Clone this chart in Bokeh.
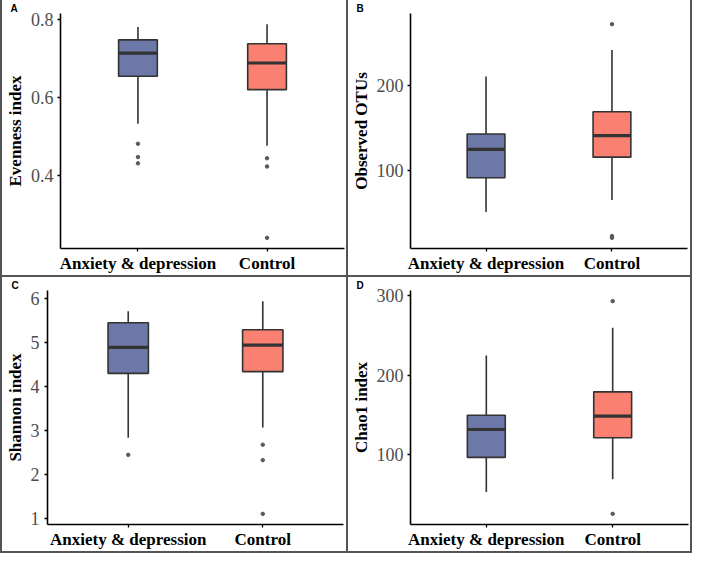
from bokeh.plotting import figure
from bokeh.models import FactorRange, Range1d, FixedTicker, Div
from bokeh.layouts import row, column
from bokeh.embed import file_html
from bokeh.resources import INLINE

# ---- data ----
groups = ["Anxiety & depression", "Control"]
box_colors = ["#6C79A8", "#FA8072"]

# Evenness index (panel A)
even_low = [0.533, 0.477]
even_q1 = [0.654, 0.620]
even_med = [0.713, 0.688]
even_q3 = [0.747, 0.737]
even_high = [0.780, 0.787]
even_out_g = ["Anxiety & depression"] * 3 + ["Control"] * 3
even_out_v = [0.482, 0.448, 0.432, 0.445, 0.424, 0.242]
even_ticks = [0.4, 0.6, 0.8]

# Observed OTUs (panel B)
otu_low = [52, 66]
otu_q1 = [92, 116]
otu_med = [125, 141]
otu_q3 = [143, 169]
otu_high = [210, 241]
otu_out_g = ["Control", "Control", "Control"]
otu_out_v = [271, 24, 22]
otu_ticks = [100, 200]

# Shannon index (panel C)
sha_low = [2.84, 3.07]
sha_q1 = [4.30, 4.34]
sha_med = [4.89, 4.94]
sha_q3 = [5.45, 5.29]
sha_high = [5.71, 5.94]
sha_out_g = ["Anxiety & depression", "Control", "Control", "Control"]
sha_out_v = [2.45, 2.68, 2.33, 1.11]
sha_ticks = [1, 2, 3, 4, 5, 6]

# Chao1 index (panel D)
chao_low = [52.7, 68.9]
chao_q1 = [96.4, 121.1]
chao_med = [131.5, 148.3]
chao_q3 = [149.5, 178.9]
chao_high = [224.7, 259.7]
chao_out_g = ["Control", "Control"]
chao_out_v = [293.2, 25.2]
chao_ticks = [100, 200, 300]

SERIF = "Liberation Serif"
EDGE = "#333333"
BORDER = "#555555"


def panel(letter, ylabel, low, q1, med, q3, high, out_g, out_v, ticks,
          width, height, bl, br, bt, bb, tick_standoff=4):
    allv = low + high + out_v
    lo, hi = min(allv), max(allv)
    pad = 0.05 * (hi - lo)
    p = figure(x_range=FactorRange(*groups, range_padding=0.1, range_padding_units="absolute"),
               y_range=Range1d(lo - pad, hi + pad),
               width=width, height=height,
               min_border_left=bl, min_border_right=br,
               min_border_top=bt, min_border_bottom=bb,
               output_backend="svg", toolbar_location=None)
    p.outline_line_color = None
    p.xgrid.grid_line_color = None
    p.ygrid.grid_line_color = None
    p.background_fill_color = "white"
    p.border_fill_color = "white"

    # panel letter as the figure title
    p.title.text = letter
    p.title.align = "left"
    p.title.offset = -(bl - 6)
    p.title.standoff = 0
    p.title.text_font = "Liberation Sans"
    p.title.text_font_style = "bold"
    p.title.text_font_size = "10px"
    p.title.text_color = "black"

    # whiskers
    p.segment(x0=groups, y0=q3, x1=groups, y1=high, line_color=EDGE, line_width=1.6)
    p.segment(x0=groups, y0=q1, x1=groups, y1=low, line_color=EDGE, line_width=1.6)
    # boxes
    p.vbar(x=groups, width=0.3, top=q3, bottom=q1, fill_color=box_colors,
           line_color=EDGE, line_width=1.6)
    # medians
    p.rect(x=groups, y=med, width=0.3, height=3.2, height_units="screen",
           fill_color=EDGE, line_color=None)
    # outliers
    p.scatter(x=out_g, y=out_v, size=3.5, color="#5a5a5a")

    xa = p.xaxis[0]
    xa.axis_line_color = "black"
    xa.axis_line_width = 1.6
    xa.major_tick_line_color = "black"
    xa.major_tick_line_width = 1.3
    xa.major_tick_out = 3
    xa.major_tick_in = 0
    xa.major_label_standoff = 2
    xa.major_label_text_font = SERIF
    xa.major_label_text_font_style = "bold"
    xa.major_label_text_font_size = "17px"
    xa.major_label_text_color = "black"

    ya = p.yaxis[0]
    ya.ticker = FixedTicker(ticks=ticks)
    ya.axis_line_color = "black"
    ya.axis_line_width = 1.6
    ya.major_tick_line_color = "black"
    ya.major_tick_line_width = 1.3
    ya.major_tick_out = 3
    ya.major_tick_in = 0
    ya.minor_tick_line_color = None
    ya.major_label_standoff = tick_standoff
    ya.major_label_text_font = SERIF
    ya.major_label_text_font_size = "18px"
    ya.major_label_text_color = "#4D4D4D"
    ya.axis_label = ylabel
    ya.axis_label_text_font = SERIF
    ya.axis_label_text_font_style = "bold"
    ya.axis_label_text_font_size = "17px"
    ya.axis_label_text_color = "black"
    ya.axis_label_standoff = 3
    return p


pA = panel("A", "Evenness index", even_low, even_q1, even_med, even_q3, even_high,
           even_out_g, even_out_v, even_ticks, 344, 275, 56, 2, 8, 27)
pB = panel("B", "Observed OTUs", otu_low, otu_q1, otu_med, otu_q3, otu_high,
           otu_out_g, otu_out_v, otu_ticks, 342, 275, 60, 3, 8, 27)
pC = panel("C", "Shannon index", sha_low, sha_q1, sha_med, sha_q3, sha_high,
           sha_out_g, sha_out_v, sha_ticks, 344, 274, 42, 3, 5, 25, tick_standoff=5)
pD = panel("D", "Chao1 index", chao_low, chao_q1, chao_med, chao_q3, chao_high,
           chao_out_g, chao_out_v, chao_ticks, 342, 274, 60, 2, 5, 25)


def vline(h):
    return Div(text="", width=2, height=h, margin=0, styles={"background-color": BORDER})


def hline(w):
    return Div(text="", width=w, height=2, margin=0, styles={"background-color": BORDER})


top = row(vline(275), pA, vline(275), pB, vline(275), spacing=0)
bottom = row(vline(274), pC, vline(274), pD, vline(274), spacing=0)
layout = column(top, hline(692), bottom, hline(692), spacing=0)

open("out.html", "w").write(file_html(layout, INLINE, title="Alpha diversity"))
